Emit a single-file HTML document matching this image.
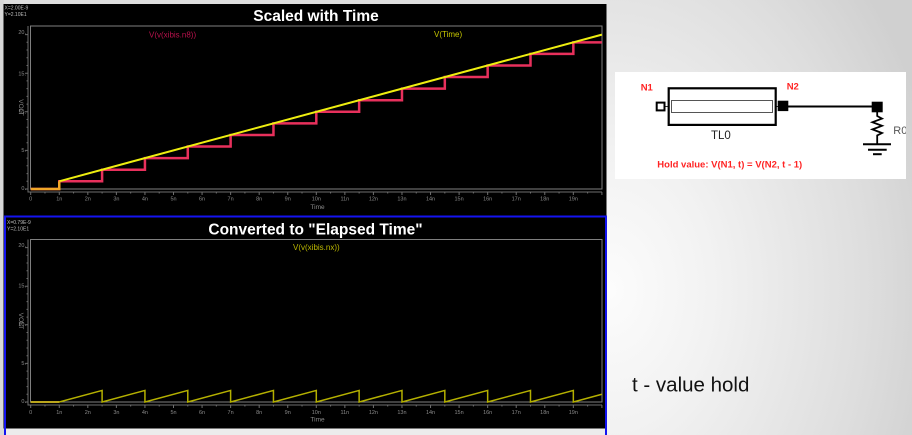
<!DOCTYPE html>
<html><head><meta charset="utf-8"><style>
html,body{margin:0;padding:0;width:912px;height:435px;overflow:hidden;background:#dedede;}
svg{display:block;}
</style></head><body><svg width="912" height="435" viewBox="0 0 912 435" xmlns="http://www.w3.org/2000/svg" font-family="Liberation Sans, sans-serif">
<defs>
<clipPath id="wb"><rect x="615" y="72" width="291" height="107"/></clipPath>
<radialGradient id="rg" gradientUnits="userSpaceOnUse" cx="0" cy="0" r="1" gradientTransform="translate(610 290) scale(340 460)">
<stop offset="0" stop-color="#fcfcfc"/><stop offset="0.3" stop-color="#f2f2f2"/><stop offset="0.75" stop-color="#dedede"/><stop offset="1" stop-color="#d0d0d0"/>
</radialGradient>
</defs>
<!-- background -->
<rect x="0" y="0" width="912" height="435" fill="#dedede"/>
<rect x="600" y="0" width="312" height="435" fill="url(#rg)"/>
<rect x="0" y="428" width="606" height="7" fill="#ececec"/>
<rect x="0" y="0" width="4" height="435" fill="#d8d8d8"/>
<!-- black panels -->
<rect x="3.5" y="4" width="603" height="424.5" fill="#000"/>
<rect x="5" y="216.5" width="601" height="411.2" fill="none" stroke="#1414f0" stroke-width="2"/>

<!-- info texts -->
<g fill="#bdbdbd" font-size="5">
<text x="4.5" y="9.5">X=2.00E-9</text><text x="4.5" y="16">Y=2.10E1</text>
<text x="7" y="224">X=0.79E-9</text><text x="7" y="230.5">Y=2.10E1</text>
</g>

<!-- titles -->
<text x="316" y="21" fill="#fff" font-size="15.5" font-weight="bold" text-anchor="middle">Scaled with Time</text>
<text x="315.5" y="234.5" fill="#fff" font-size="15.5" font-weight="bold" text-anchor="middle">Converted to "Elapsed Time"</text>

<!-- TOP PLOT frame & axes -->
<rect x="30.5" y="26" width="571.5" height="163" fill="none" stroke="#7f7f7f" stroke-width="1"/>
<g stroke="#6e6e6e" stroke-width="1" fill="none">
<path d="M28,26 V192 H602"/>
<path d="M30.7,192v3 M59.26,192v3 M87.82,192v3 M116.38,192v3 M144.94,192v3 M173.5,192v3 M202.06,192v3 M230.62,192v3 M259.18,192v3 M287.74,192v3 M316.3,192v3 M344.86,192v3 M373.42,192v3 M401.98,192v3 M430.54,192v3 M459.1,192v3 M487.66,192v3 M516.22,192v3 M544.78,192v3 M573.34,192v3 M601.9,192v3"/>
<path d="M44.98,192v1.5 M73.54,192v1.5 M102.1,192v1.5 M130.66,192v1.5 M159.22,192v1.5 M187.78,192v1.5 M216.34,192v1.5 M244.9,192v1.5 M273.46,192v1.5 M302.02,192v1.5 M330.58,192v1.5 M359.14,192v1.5 M387.7,192v1.5 M416.26,192v1.5 M444.82,192v1.5 M473.38,192v1.5 M501.94,192v1.5 M530.5,192v1.5 M559.06,192v1.5 M587.62,192v1.5"/>
<path d="M28,189h-3 M28,150.4h-3 M28,111.8h-3 M28,73.2h-3 M28,34.6h-3"/>
<path d="M28,181.3h-1.5 M28,173.6h-1.5 M28,165.8h-1.5 M28,158.1h-1.5 M28,142.7h-1.5 M28,135h-1.5 M28,127.2h-1.5 M28,119.5h-1.5 M28,104.1h-1.5 M28,96.4h-1.5 M28,88.6h-1.5 M28,80.9h-1.5 M28,65.5h-1.5 M28,57.8h-1.5 M28,50h-1.5 M28,42.3h-1.5"/>
</g>
<g fill="#8a8a8a" font-size="5.5" text-anchor="middle">
<text x="30.7" y="200.5">0</text><text x="59.26" y="200.5">1n</text><text x="87.82" y="200.5">2n</text><text x="116.38" y="200.5">3n</text><text x="144.94" y="200.5">4n</text><text x="173.5" y="200.5">5n</text><text x="202.06" y="200.5">6n</text><text x="230.62" y="200.5">7n</text><text x="259.18" y="200.5">8n</text><text x="287.74" y="200.5">9n</text><text x="316.3" y="200.5">10n</text><text x="344.86" y="200.5">11n</text><text x="373.42" y="200.5">12n</text><text x="401.98" y="200.5">13n</text><text x="430.54" y="200.5">14n</text><text x="459.1" y="200.5">15n</text><text x="487.66" y="200.5">16n</text><text x="516.22" y="200.5">17n</text><text x="544.78" y="200.5">18n</text><text x="573.34" y="200.5">19n</text>
</g>
<g fill="#8a8a8a" font-size="5.5" text-anchor="end">
<text x="26" y="190">0.</text><text x="26" y="152">5.</text><text x="26" y="114">10.</text><text x="26" y="75.5">15.</text><text x="26" y="34">20.</text>
</g>
<text x="317.5" y="209" fill="#8a8a8a" font-size="6.5" text-anchor="middle">Time</text>
<text x="0" y="0" fill="#8a8a8a" font-size="6.5" text-anchor="middle" transform="translate(19,107.5) rotate(90)">VOLT</text>

<text x="149" y="37.5" fill="#b8124c" font-size="8">V(v(xibis.n8))</text>
<text x="434" y="37" fill="#c8c800" font-size="8">V(Time)</text>

<!-- top series -->
<path d="M30.7,189 H59.26 V181.28 H102.1 V169.7 H144.94 V158.12 H187.78 V146.54 H230.62 V134.96 H273.46 V123.38 H316.3 V111.8 H359.14 V100.22 H401.98 V88.64 H444.82 V77.06 H487.66 V65.48 H530.5 V53.9 H573.34 V42.32 H601.9" fill="none" stroke="#e8305c" stroke-width="2.5"/>
<path d="M59.26,181.28 L601.9,34.6" fill="none" stroke="#eeee10" stroke-width="2"/>
<path d="M30.7,189 H59.26 V181.28" fill="none" stroke="#f0a628" stroke-width="2.5"/>

<!-- BOTTOM PLOT frame & axes -->
<rect x="30.5" y="239.5" width="571.5" height="162.5" fill="none" stroke="#7f7f7f" stroke-width="1"/>
<g stroke="#6e6e6e" stroke-width="1" fill="none">
<path d="M28,239.5 V405 H602"/>
<path d="M30.7,405v3 M59.26,405v3 M87.82,405v3 M116.38,405v3 M144.94,405v3 M173.5,405v3 M202.06,405v3 M230.62,405v3 M259.18,405v3 M287.74,405v3 M316.3,405v3 M344.86,405v3 M373.42,405v3 M401.98,405v3 M430.54,405v3 M459.1,405v3 M487.66,405v3 M516.22,405v3 M544.78,405v3 M573.34,405v3 M601.9,405v3"/>
<path d="M44.98,405v1.5 M73.54,405v1.5 M102.1,405v1.5 M130.66,405v1.5 M159.22,405v1.5 M187.78,405v1.5 M216.34,405v1.5 M244.9,405v1.5 M273.46,405v1.5 M302.02,405v1.5 M330.58,405v1.5 M359.14,405v1.5 M387.7,405v1.5 M416.26,405v1.5 M444.82,405v1.5 M473.38,405v1.5 M501.94,405v1.5 M530.5,405v1.5 M559.06,405v1.5 M587.62,405v1.5"/>
<path d="M28,402h-3 M28,363.4h-3 M28,324.8h-3 M28,286.2h-3 M28,247.6h-3"/>
<path d="M28,394.3h-1.5 M28,386.6h-1.5 M28,378.8h-1.5 M28,371.1h-1.5 M28,355.7h-1.5 M28,348h-1.5 M28,340.2h-1.5 M28,332.5h-1.5 M28,317.1h-1.5 M28,309.4h-1.5 M28,301.6h-1.5 M28,293.9h-1.5 M28,278.5h-1.5 M28,270.8h-1.5 M28,263h-1.5 M28,255.3h-1.5"/>
</g>
<g fill="#8a8a8a" font-size="5.5" text-anchor="middle">
<text x="30.7" y="414">0</text><text x="59.26" y="414">1n</text><text x="87.82" y="414">2n</text><text x="116.38" y="414">3n</text><text x="144.94" y="414">4n</text><text x="173.5" y="414">5n</text><text x="202.06" y="414">6n</text><text x="230.62" y="414">7n</text><text x="259.18" y="414">8n</text><text x="287.74" y="414">9n</text><text x="316.3" y="414">10n</text><text x="344.86" y="414">11n</text><text x="373.42" y="414">12n</text><text x="401.98" y="414">13n</text><text x="430.54" y="414">14n</text><text x="459.1" y="414">15n</text><text x="487.66" y="414">16n</text><text x="516.22" y="414">17n</text><text x="544.78" y="414">18n</text><text x="573.34" y="414">19n</text>
</g>
<g fill="#8a8a8a" font-size="5.5" text-anchor="end">
<text x="26" y="403">0.</text><text x="26" y="365">5.</text><text x="26" y="326">10.</text><text x="26" y="287.5">15.</text><text x="26" y="247">20.</text>
</g>
<text x="317.5" y="421.5" fill="#8a8a8a" font-size="6.5" text-anchor="middle">Time</text>
<text x="0" y="0" fill="#8a8a8a" font-size="6.5" text-anchor="middle" transform="translate(19,321) rotate(90)">VOLT</text>

<text x="293" y="250" fill="#bcb800" font-size="8">V(v(xibis.nx))</text>

<path d="M30.7,402 H59.26 L102.1,390.42 V402 L144.94,390.42 V402 L187.78,390.42 V402 L230.62,390.42 V402 L273.46,390.42 V402 L316.3,390.42 V402 L359.14,390.42 V402 L401.98,390.42 V402 L444.82,390.42 V402 L487.66,390.42 V402 L530.5,390.42 V402 L573.34,390.42 V402 L601.9,394.28" fill="none" stroke="#b4b000" stroke-width="1.5"/>
<path d="M30.7,402 H59.26" fill="none" stroke="#c8b020" stroke-width="1.8"/>

<!-- SCHEMATIC -->
<rect x="615" y="72" width="291" height="107" fill="#fff"/>
<g clip-path="url(#wb)">
<text x="640.7" y="90.7" fill="#ff2424" font-size="9.5" font-weight="bold">N1</text>
<text x="786.7" y="89.7" fill="#ff2424" font-size="9.5" font-weight="bold">N2</text>
<line x1="665" y1="106.5" x2="672" y2="106.5" stroke="#333" stroke-width="1"/>
<line x1="772" y1="106.5" x2="778" y2="106.5" stroke="#333" stroke-width="1"/>
<rect x="656.7" y="102.6" width="7.8" height="7.8" fill="#fff" stroke="#000" stroke-width="2"/>
<rect x="668.7" y="88.3" width="107" height="36.6" fill="#fff" stroke="#000" stroke-width="2.2"/>
<rect x="671.5" y="100.5" width="101" height="12" fill="#fff" stroke="#555" stroke-width="1"/>
<rect x="777.7" y="100.7" width="10.6" height="10.4" fill="#000"/>
<line x1="788" y1="106.5" x2="872" y2="106.5" stroke="#000" stroke-width="2"/>
<rect x="871.7" y="101.7" width="11" height="10.6" fill="#000"/>
<path d="M877.2,112 V116 L882,118.6 L872.4,122.2 L882,125.8 L872.4,129.4 L882,133 L877.2,135.4 V144" fill="none" stroke="#000" stroke-width="1.8"/>
<line x1="863" y1="144.2" x2="891" y2="144.2" stroke="#000" stroke-width="2"/>
<line x1="868" y1="149.7" x2="886.7" y2="149.7" stroke="#000" stroke-width="2"/>
<line x1="873" y1="154.2" x2="881.7" y2="154.2" stroke="#000" stroke-width="2"/>
<text x="893.3" y="134" fill="#555" font-size="11">R0</text>
<text x="711" y="139" fill="#222" font-size="11.5">TL0</text>
<text x="657.3" y="167.7" fill="#ff2424" font-size="9.5" font-weight="bold">Hold value: V(N1, t) = V(N2, t - 1)</text>
</g>

<text x="632" y="391.7" fill="#111" font-size="20.5">t - value hold</text>
</svg></body></html>
